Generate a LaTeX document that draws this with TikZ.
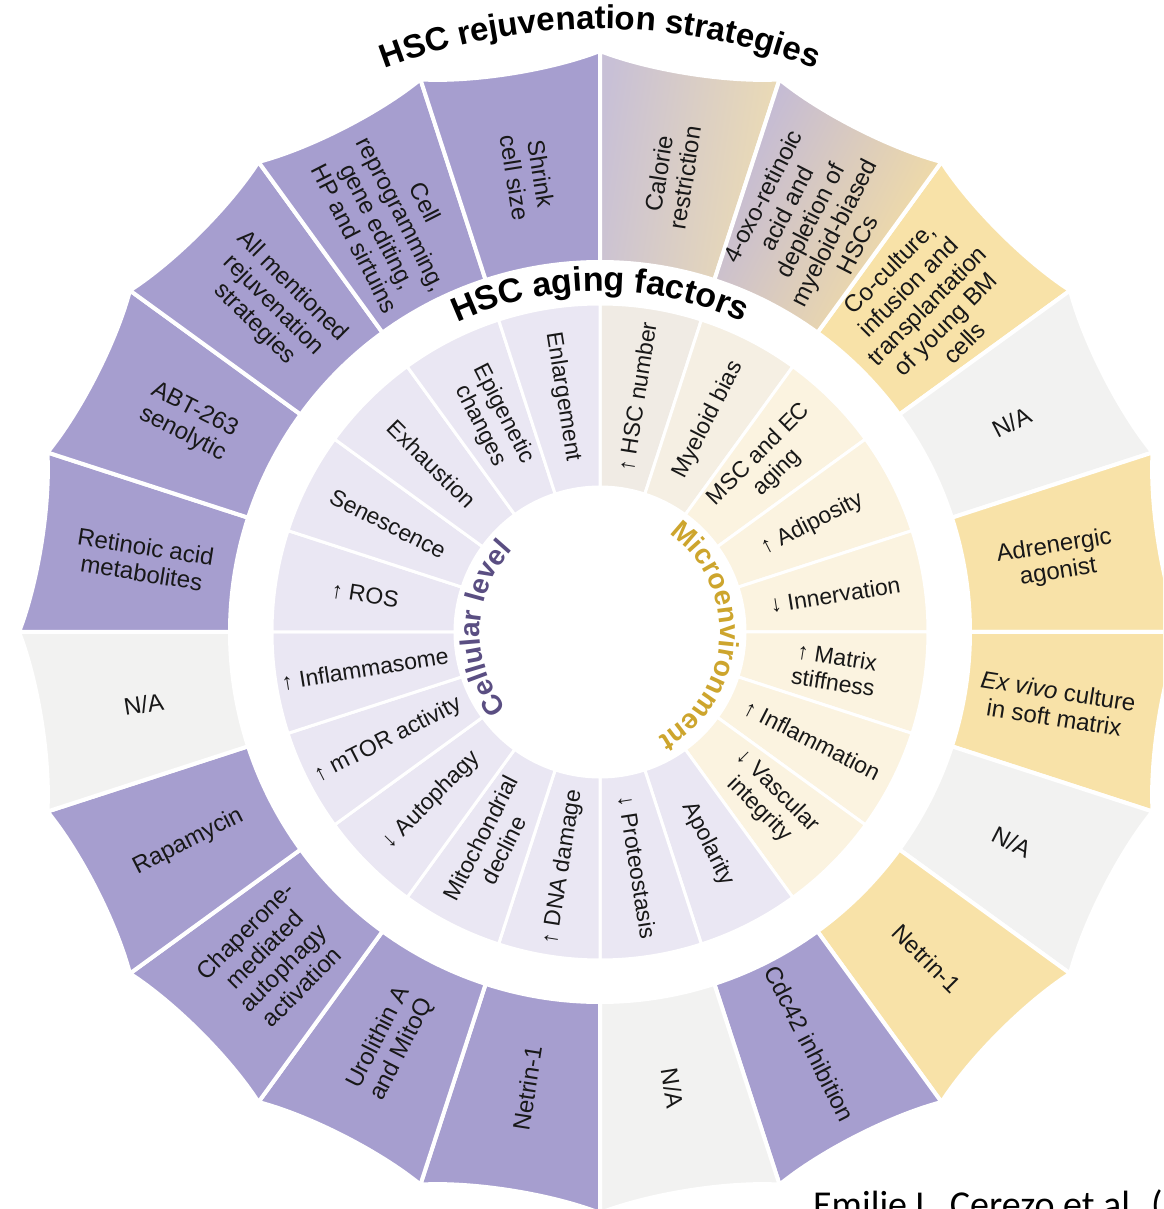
\documentclass[tikz,border=0pt]{standalone}
\usepackage{fontspec}
\setmainfont{Liberation Sans}
\newfontfamily\citefont{Carlito}
\usetikzlibrary{decorations.text}
\definecolor{pur}{RGB}{166,158,207}
\definecolor{yel}{RGB}{248,226,168}
\definecolor{gry}{RGB}{242,242,241}
\definecolor{lav}{RGB}{234,231,243}
\definecolor{crm}{RGB}{251,243,224}
\definecolor{bge}{RGB}{240,235,228}
\definecolor{bgeb}{RGB}{245,239,227}
\definecolor{txt}{RGB}{24,24,24}
\definecolor{cellc}{RGB}{90,78,130}
\definecolor{microc}{RGB}{205,165,45}
\definecolor{gradA}{RGB}{200,192,214}
\definecolor{gradB}{RGB}{238,221,178}
\definecolor{gradC}{RGB}{192,184,217}
\definecolor{gradD}{RGB}{247,224,160}
\tikzset{
  outerseg/.style={draw=white, line width=4pt},
  innerseg/.style={draw=white, line width=3pt},
  outerlabel/.style={text=txt, align=center, inner sep=0pt, font=\fontsize{24}{26.5}\selectfont},
  innerlabel/.style={text=txt, align=center, inner sep=0pt, font=\fontsize{23}{26}\selectfont},
}
\begin{document}
\begin{tikzpicture}
\useasboundingbox (-600pt,-577pt) rectangle (563pt,632pt);
\begin{scope}
\clip (-600pt,-577pt) rectangle (563pt,632pt);
\fill[white] (-600pt,-577pt) rectangle (563pt,632pt);
% outer ring
\foreach \k/\col in {2/yel,3/gry,4/yel,5/yel,6/gry,7/yel,8/pur,9/gry,10/pur,11/pur,12/pur,13/pur,14/gry,15/pur,16/pur,17/pur,18/pur,19/pur}{
  \pgfmathsetmacro\e{90-18*\k}
  \pgfmathsetmacro\s{\e-18}
  \pgfmathsetmacro\ca{\s+5}
  \pgfmathsetmacro\cb{\e-5}
  \path[outerseg, fill=\col] (\s:370pt) -- (\s:581pt) .. controls (\ca:564pt) and (\cb:564pt) .. (\e:581pt) -- (\e:370pt) arc[start angle=\e, end angle=\s, radius=370pt] -- cycle;
}
\path[outerseg, top color=gradA, bottom color=gradB, shading angle=81] (72:370pt) -- (72:581pt) .. controls (77:564pt) and (85:564pt) .. (90:581pt) -- (90:370pt) arc[start angle=90, end angle=72, radius=370pt] -- cycle;
\path[outerseg, top color=gradC, bottom color=gradD, shading angle=63] (54:370pt) -- (54:581pt) .. controls (59:564pt) and (67:564pt) .. (72:581pt) -- (72:370pt) arc[start angle=72, end angle=54, radius=370pt] -- cycle;
% inner ring
\foreach \k/\col in {0/bge,1/bgeb,2/crm,3/crm,4/crm,5/crm,6/crm,7/crm,8/lav,9/lav,10/lav,11/lav,12/lav,13/lav,14/lav,15/lav,16/lav,17/lav,18/lav,19/lav}{
  \pgfmathsetmacro\e{90-18*\k}
  \pgfmathsetmacro\s{\e-18}
  \path[innerseg, fill=\col] (\s:145pt) -- (\s:328pt) arc[start angle=\s, end angle=\e, radius=328pt] -- (\e:145pt) arc[start angle=\e, end angle=\s, radius=145pt] -- cycle;
}
% outer labels
\foreach \k/\t in {0/{Calorie\\restriction},
  1/{4-oxo-retinoic\\acid and\\depletion of\\myeloid-biased\\HSCs},
  2/{Co-culture,\\infusion and\\transplantation\\of young BM\\cells},
  3/{N/A}, 4/{Adrenergic\\agonist}, 5/{\textit{Ex vivo} culture\\in soft matrix},
  6/{N/A}, 7/{Netrin-1}, 8/{Cdc42 inhibition}, 9/{N/A}, 10/{Netrin-1},
  11/{Urolithin A\\and MitoQ}, 12/{Chaperone-\\mediated\\autophagy\\activation},
  13/{Rapamycin}, 14/{N/A}, 15/{Retinoic acid\\metabolites}, 16/{ABT-263\\senolytic},
  17/{All mentioned\\rejuvenation\\strategies},
  18/{Cell\\reprogramming,\\gene editing,\\HP and sirtuins}, 19/{Shrink\\cell size}}{
  \pgfmathsetmacro\m{81-18*\k}
  \pgfmathsetmacro\rr{cos(\m)>=0 ? \m : \m+180}
  \node[outerlabel, rotate=\rr] (o\k) at (\m:462pt) {\t};
}
% inner labels
\foreach \k/\t in {0/{↑ HSC number}, 1/{Myeloid bias}, 2/{MSC and EC\\aging},
  3/{↑ Adiposity}, 4/{↓ Innervation}, 5/{↑ Matrix\\stiffness}, 6/{↑ Inflammation},
  7/{↓ Vascular\\integrity}, 8/{Apolarity}, 9/{↓ Proteostasis}, 10/{↑ DNA damage},
  11/{Mitochondrial\\decline}, 12/{↓ Autophagy}, 13/{↑ mTOR activity},
  14/{↑ Inflammasome}, 15/{↑ ROS}, 16/{Senescence}, 17/{Exhaustion},
  18/{Epigenetic\\changes}, 19/{Enlargement}}{
  \pgfmathsetmacro\m{81-18*\k}
  \pgfmathsetmacro\rr{cos(\m)>=0 ? \m : \m+180}
  \node[innerlabel, rotate=\rr] (i\k) at (\m:238pt) {\t};
}
% curved titles
\path[decorate, decoration={text along path, text align=center, text color=black,
  text={|\fontsize{33}{36}\selectfont\bfseries|HSC rejuvenation strategies}}]
  (170:603pt) arc[start angle=170, end angle=10, radius=603pt];
\path[decorate, decoration={text along path, text align=center, text color=black,
  text={|\fontsize{34}{36}\selectfont\bfseries|HSC aging factors}}]
  (170:341pt) arc[start angle=170, end angle=10, radius=341pt];
\path[decorate, decoration={text along path, text align=center, text color=cellc,
  text={|\fontsize{28}{30}\selectfont\bfseries|Cellular level}}]
  (268:120pt) arc[start angle=268, end angle=88, radius=120pt];
\path[decorate, decoration={text along path, text align=center, text color=microc,
  text={|\fontsize{28}{30}\selectfont\bfseries|Microenvironment}}]
  (87:120pt) arc[start angle=87, end angle=-93, radius=120pt];
% citation
\node[anchor=base west, inner sep=0pt, text=black, font=\citefont\fontsize{38}{40}\selectfont] (cite) at (213pt,-585pt) {Emilie L. Cerezo et al. (};
\end{scope}
\end{tikzpicture}
\end{document}
